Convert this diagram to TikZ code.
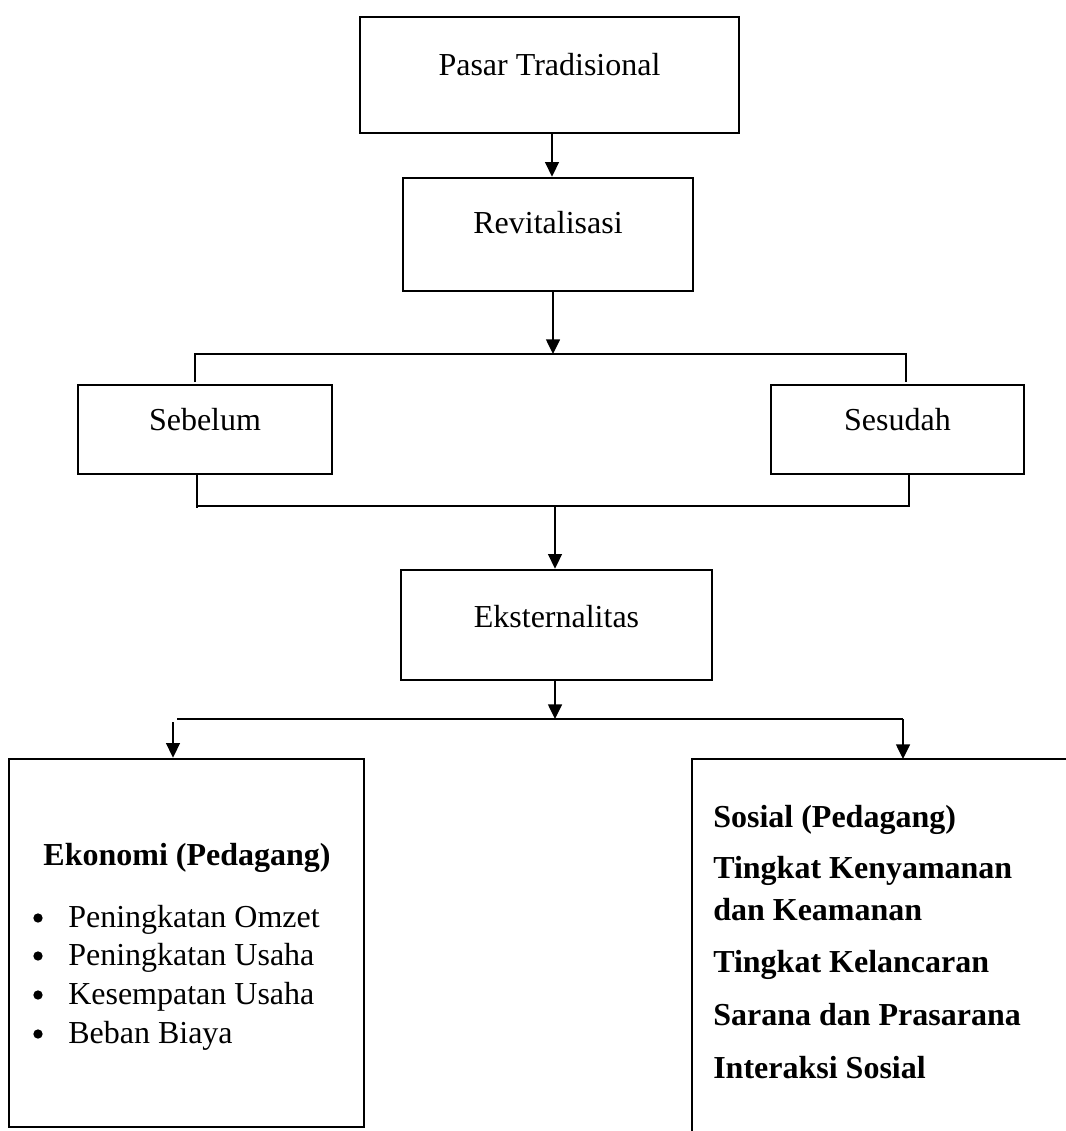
\documentclass[tikz,border=0pt]{standalone}
\usepackage{fontspec}
\setmainfont{Liberation Serif}
\usetikzlibrary{arrows.meta,fit}
\begin{document}
\begin{tikzpicture}[x=0.75pt,y=-0.75pt,
  box/.style={draw,line width=2pt,inner sep=0pt},
  conn/.style={line width=1.1pt},
  arr/.style={line width=1.1pt,-{Triangle[length=11pt,width=10.5pt]}},
  bul/.style={circle,fill,inner sep=0pt,minimum size=7pt},
  txt/.style={anchor=base,inner sep=0pt,font=\fontsize{24}{28}\selectfont},
  ltxt/.style={anchor=base west,inner sep=0pt,font=\fontsize{24}{28}\selectfont},
  btxt/.style={anchor=base west,inner sep=0pt,font=\fontsize{24}{28}\selectfont\bfseries}]
\useasboundingbox (0,0) rectangle (1065,1131);
% boxes
\node[box,fit={(360,17) (739,133)}] (pasar) {};
\node[box,fit={(403,178) (693,291)}] (revit) {};
\node[box,fit={(78,385) (332,474)}] (sebelum) {};
\node[box,fit={(771,385) (1024,474)}] (sesudah) {};
\node[box,fit={(401,570) (712,680)}] (ekst) {};
\node[box,fit={(9,759) (364,1127)}] (ekon) {};
% open box on the right (cut by the page edge)
\coordinate (sosTR) at (1070,759);
\coordinate (sosTL) at (692,759);
\coordinate (sosBL) at (692,1136);
\draw[line width=2pt] (sosTR) -- (sosTL) -- (sosBL);
% texts
\node[txt] (tpasar) at (549.5,75) {Pasar Tradisional};
\node[txt] (trevit) at (548,233) {Revitalisasi};
\node[txt] (tsebelum) at (205,430) {Sebelum};
\node[txt] (tsesudah) at (897.5,430) {Sesudah};
\node[txt] (tekst) at (556.5,627) {Eksternalitas};
\node[txt,font=\fontsize{24}{28}\selectfont\bfseries] (tekon) at (187,865) {Ekonomi (Pedagang)};
\node[bul] (bul1) at (38,918) {};
\node[bul] (bul2) at (38,956) {};
\node[bul] (bul3) at (38,995) {};
\node[bul] (bul4) at (38,1034) {};
\node[ltxt] (e1) at (68,927) {Peningkatan Omzet};
\node[ltxt] (e2) at (68,965) {Peningkatan Usaha};
\node[ltxt] (e3) at (68,1004) {Kesempatan Usaha};
\node[ltxt] (e4) at (68,1043) {Beban Biaya};
\node[btxt] (s1) at (713,827) {Sosial (Pedagang)};
\node[btxt] (s2) at (713,878) {Tingkat Kenyamanan};
\node[btxt] (s3) at (713,920) {dan Keamanan};
\node[btxt] (s4) at (713,972) {Tingkat Kelancaran};
\node[btxt] (s5) at (713,1025) {Sarana dan Prasarana};
\node[btxt] (s6) at (713,1078) {Interaksi Sosial};
% connector points
\coordinate (j1) at (553,354);
\coordinate (j1L) at (195,354);
\coordinate (j1R) at (906,354);
\coordinate (d1L) at (195,382);
\coordinate (d1R) at (906,382);
\coordinate (j2) at (555,506);
\coordinate (j2L) at (197,506);
\coordinate (j2R) at (909,506);
\coordinate (u2L) at (197,508);
\coordinate (j3) at (555,719);
\coordinate (j3L) at (177,719);
\coordinate (j3R) at (903,719);
\coordinate (a3L) at (173,722);
% connectors
\draw[arr] (pasar.south -| 552,0) -- (revit.north -| 552,0);
\draw[arr] (revit.south -| j1) -- (j1);
\draw[conn] (d1L) -- (j1L) -- (j1R) -- (d1R);
\draw[conn] (sebelum.south -| u2L) -- (u2L);
\draw[conn] (j2L) -- (j2R) -- (sesudah.south -| j2R);
\draw[arr] (j2) -- (ekst.north -| j2);
\draw[arr] (ekst.south -| j3) -- (j3);
\draw[conn] (j3L) -- (j3R);
\draw[arr] (a3L) -- (ekon.north -| a3L);
\draw[arr] (j3R) -- (sosTL -| j3R);
\end{tikzpicture}
\end{document}
